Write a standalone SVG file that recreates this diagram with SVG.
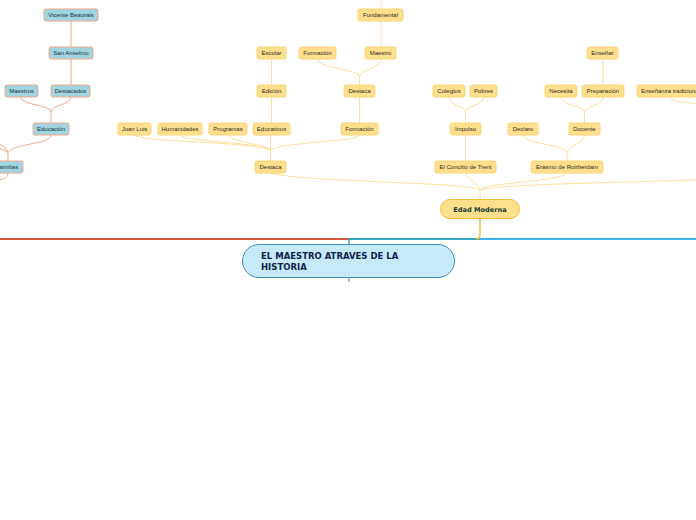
<svg xmlns="http://www.w3.org/2000/svg" width="696" height="520" viewBox="0 0 696 520">
<style>
  .y rect{fill:#fedf8e;stroke:#fdd47a;stroke-width:1}
  .b rect{fill:#9fd4e0;stroke:#f5a88e;stroke-width:1}
  .n text{font-family:"Liberation Sans",Arial,sans-serif;font-size:6px;fill:#2e2a1e;text-anchor:middle}
  .b text{fill:#1a3338}
  .cy{fill:none;stroke:#fde29c;stroke-width:1}
  .cb{fill:none;stroke:#f7a78c;stroke-width:1}
</style>
<rect width="696" height="520" fill="#ffffff"/>
<g id="connectors">
  <path d="M0 239 H349" stroke="#d2573d" stroke-width="2" fill="none"/>
  <path d="M349 239 H480" stroke="#35a9bf" stroke-width="2" fill="none"/>
  <path d="M480 239 H696" stroke="#3bb3e6" stroke-width="2" fill="none"/>
  <path d="M349 244 V239" stroke="#35a9bf" stroke-width="1.5" fill="none"/>
  <path d="M349 278 V282" stroke="#3d8fc8" stroke-width="1" fill="none"/>
  <path d="M480 219 V235 Q480 239 476 239" stroke="#f5bd3a" stroke-width="1.5" fill="none"/>
  <path class="cy" d="M480 199 V190"/>
  <path class="cy" d="M480 190 C470 182,300 182,270.5 173"/>
  <path class="cy" d="M480 190 C478 182,466 180,465.5 172"/>
  <path class="cy" d="M480 190 C486 182,566 182,567 172"/>
  <path class="cy" d="M480 190 C500 184,640 182,696 180"/>
  <path class="cy" d="M270.5 161 V150"/>
  <path class="cy" d="M270.5 150 C255 142,140 142,134.5 135"/>
  <path class="cy" d="M270.5 150 C258 142,185 142,180 135"/>
  <path class="cy" d="M270.5 150 C262 143,230 142,228 135"/>
  <path class="cy" d="M270.5 150 V135"/>
  <path class="cy" d="M270.5 150 C280 142,358 142,359.5 135"/>
  <path class="cy" d="M271.5 123 V97"/>
  <path class="cy" d="M271.5 85 V59"/>
  <path class="cy" d="M359.5 123 V97"/>
  <path class="cy" d="M359.5 85 V77"/>
  <path class="cy" d="M359.5 77 C358 68,318 69,317.5 59"/>
  <path class="cy" d="M359.5 77 C361 68,381 69,381 59"/>
  <path class="cy" d="M381 47 V21"/>
  <path class="cy" d="M381 9 V0"/>
  <path class="cy" d="M465.5 161 V135"/>
  <path class="cy" d="M465.5 123 V112"/>
  <path class="cy" d="M465.5 112 C464 105,449 106,449 97"/>
  <path class="cy" d="M465.5 112 C467 105,483.5 106,483.5 97"/>
  <path class="cy" d="M567 161 V152"/>
  <path class="cy" d="M567 152 C562 144,524 144,523 135"/>
  <path class="cy" d="M567 152 C570 144,584 144,584.5 135"/>
  <path class="cy" d="M584.5 123 V112"/>
  <path class="cy" d="M584.5 112 C583 105,561 106,561 97"/>
  <path class="cy" d="M584.5 112 C586 105,603 106,603 97"/>
  <path class="cy" d="M603 85 V59"/>
  <path class="cy" d="M670 97 C674 103,690 102,696 104"/>
  <path class="cb" d="M71 21 V47"/>
  <path class="cb" d="M71 59 V85"/>
  <path class="cb" d="M51 123 V112"/>
  <path class="cb" d="M51 112 C50 104,22 106,21 97"/>
  <path class="cb" d="M51 112 C52 104,70 106,71 97"/>
  <path class="cb" d="M8 161 V153"/>
  <path class="cb" d="M8 153 C12 143,50 145,51 135"/>
  <path class="cb" d="M8 153 C6 147,2 146,0 144"/>
  <path class="cb" d="M8 153 C6 150,2 149,0 149"/>
  <path class="cb" d="M8 173 C8 178,3 179,0 180"/>
</g>
<g id="main">
  <rect x="242.5" y="244.5" width="212" height="33" rx="16.5" fill="#c6eafa" stroke="#3d8fc8" stroke-width="1"/>
  <text font-family="DejaVu Sans,Verdana,sans-serif" font-size="8.5" font-weight="bold" fill="#10214a"><tspan x="261" y="259">EL MAESTRO ATRAVES DE LA</tspan><tspan x="261" y="270">HISTORIA</tspan></text>
</g>
<g id="edad-moderna">
  <rect x="440.5" y="199.5" width="79" height="19" rx="9.5" fill="#fedf8b" stroke="#f5bd3a" stroke-width="1"/>
  <text x="480" y="212" font-family="DejaVu Sans,Verdana,sans-serif" font-size="6.6" font-weight="bold" fill="#173c35" text-anchor="middle">Edad Moderna</text>
</g>
<g id="n-vicente" class="n b"><rect x="44" y="9" width="54" height="12" rx="2"/><text x="71" y="17">Vicente Beaurais</text></g>
<g id="n-sananselmo" class="n b"><rect x="49" y="47" width="44" height="12" rx="2"/><text x="71" y="55">San Anselmo</text></g>
<g id="n-maestros" class="n b"><rect x="5" y="85" width="33" height="12" rx="2"/><text x="21.5" y="93">Maestros</text></g>
<g id="n-destacados" class="n b"><rect x="51" y="85" width="39" height="12" rx="2"/><text x="70.5" y="93">Destacados</text></g>
<g id="n-educacion" class="n b"><rect x="33" y="123" width="36" height="12" rx="2"/><text x="51" y="131">Educación</text></g>
<g id="n-familias" class="n b"><rect x="-9" y="161" width="32" height="12" rx="2"/><text x="7" y="169">Familias</text></g>
<g id="n-fundamental" class="n y"><rect x="358" y="9" width="45" height="12" rx="2"/><text x="380.5" y="17">Fundamental</text></g>
<g id="n-formacion1" class="n y"><rect x="299" y="47" width="37" height="12" rx="2"/><text x="317.5" y="55">Formación</text></g>
<g id="n-maestro" class="n y"><rect x="365" y="47" width="31" height="12" rx="2"/><text x="380.5" y="55">Maestro</text></g>
<g id="n-escolar" class="n y"><rect x="257" y="47" width="29" height="12" rx="2"/><text x="271.5" y="55">Escolar</text></g>
<g id="n-edicion" class="n y"><rect x="257" y="85" width="29" height="12" rx="2"/><text x="271.5" y="93">Edición</text></g>
<g id="n-destaca1" class="n y"><rect x="344" y="85" width="31" height="12" rx="2"/><text x="359.5" y="93">Destaca</text></g>
<g id="n-juanluis" class="n y"><rect x="118" y="123" width="33" height="12" rx="2"/><text x="134.5" y="131">Juan Luis</text></g>
<g id="n-humanidades" class="n y"><rect x="158" y="123" width="44" height="12" rx="2"/><text x="180" y="131">Humanidades</text></g>
<g id="n-programas" class="n y"><rect x="209" y="123" width="38" height="12" rx="2"/><text x="228" y="131">Programas</text></g>
<g id="n-educativos" class="n y"><rect x="253" y="123" width="37" height="12" rx="2"/><text x="271.5" y="131">Educativos</text></g>
<g id="n-formacion2" class="n y"><rect x="341" y="123" width="37" height="12" rx="2"/><text x="359.5" y="131">Formación</text></g>
<g id="n-destaca2" class="n y"><rect x="255" y="161" width="31" height="12" rx="2"/><text x="270.5" y="169">Destaca</text></g>
<g id="n-colegios" class="n y"><rect x="433" y="85" width="32" height="12" rx="2"/><text x="449" y="93">Colegios</text></g>
<g id="n-pobres" class="n y"><rect x="470" y="85" width="27" height="12" rx="2"/><text x="483.5" y="93">Pobres</text></g>
<g id="n-impulso" class="n y"><rect x="450" y="123" width="31" height="12" rx="2"/><text x="465.5" y="131">Impulso</text></g>
<g id="n-concilio" class="n y"><rect x="435" y="161" width="61" height="12" rx="2"/><text x="465.5" y="169">El Concilio de Trent</text></g>
<g id="n-declaro" class="n y"><rect x="508" y="123" width="30" height="12" rx="2"/><text x="523" y="131">Declaro</text></g>
<g id="n-erasmo" class="n y"><rect x="531" y="161" width="72" height="12" rx="2"/><text x="567" y="169">Erasmo de Rottherdam</text></g>
<g id="n-docente" class="n y"><rect x="569" y="123" width="31" height="12" rx="2"/><text x="584.5" y="131">Docente</text></g>
<g id="n-necesita" class="n y"><rect x="545" y="85" width="32" height="12" rx="2"/><text x="561" y="93">Necesita</text></g>
<g id="n-preparacion" class="n y"><rect x="582" y="85" width="42" height="12" rx="2"/><text x="603" y="93">Preparación</text></g>
<g id="n-ensenar" class="n y"><rect x="587" y="47" width="31" height="12" rx="2"/><text x="602.5" y="55">Enseñar</text></g>
<g id="n-tradicional" class="n y"><rect x="637" y="85" width="72" height="12" rx="2"/><text x="641" y="93" style="text-anchor:start">Enseñanza tradicional</text></g>
</svg>
